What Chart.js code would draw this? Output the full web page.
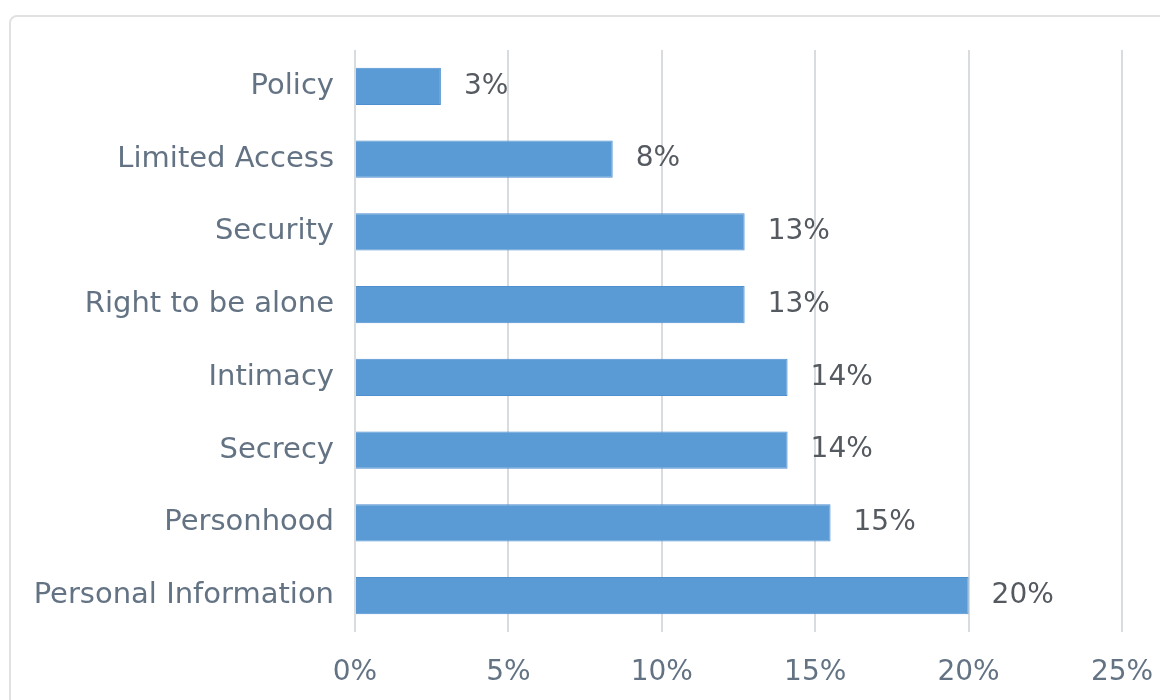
<!DOCTYPE html>
<html>
<head>
<meta charset="utf-8">
<script src="https://cdn.jsdelivr.net/npm/chart.js@4/dist/chart.umd.min.js"></script>
<style>
  html, body { margin: 0; padding: 0; background: #fff; overflow: hidden; }
  body { width: 1160px; height: 700px; position: relative; }
  .frame {
    position: absolute; left: 9px; top: 15px; width: 1200px; height: 760px;
    border: 2px solid #dfe1e3; border-radius: 8px; box-sizing: border-box;
  }
  .wrap { position: absolute; left: 0; top: 0; width: 1200px; height: 700px; }
</style>
</head>
<body>
<div class="frame"></div>
<div class="wrap"><canvas id="chart" width="1200" height="700"></canvas></div>
<script>
// datos
const categories = ['Policy', 'Limited Access', 'Security', 'Right to be alone',
    'Intimacy', 'Secrecy', 'Personhood', 'Personal Information'];
const shares = [2.8, 8.4, 12.7, 12.7, 14.1, 14.1, 15.5, 20.0];
const shareLabels = ['3%', '8%', '13%', '13%', '14%', '14%', '15%', '20%'];
const xTicks = [0, 5, 10, 15, 20, 25];

const axisColor = '#637384';
const valueColor = '#555a60';
const fontFamily = '"DejaVu Sans", sans-serif';

// etiquetas de valor al final de cada barra
const valueLabels = {
    id: 'valueLabels',
    afterDatasetsDraw(chart) {
        const ctx = chart.ctx;
        const meta = chart.getDatasetMeta(0);
        ctx.save();
        ctx.font = `28px ${fontFamily}`;
        ctx.fillStyle = valueColor;
        ctx.textAlign = 'left';
        ctx.textBaseline = 'middle';
        meta.data.forEach((bar, i) => {
            ctx.fillText(shareLabels[i], bar.x + 23, bar.y);
        });
        ctx.restore();
    }
};

new Chart(document.getElementById('chart'), {
    type: 'bar',
    data: {
        labels: categories,
        datasets: [{
            data: shares,
            backgroundColor: '#5b9bd5',
            borderColor: '#4e8fcf',
            borderWidth: 1,
            barPercentage: 0.68,
            categoryPercentage: 0.75
        }]
    },
    options: {
        indexAxis: 'y',
        responsive: false,
        animation: false,
        layout: { padding: { top: 50, right: 78, bottom: 0, left: 0 } },
        plugins: {
            legend: { display: false },
            tooltip: { enabled: false }
        },
        scales: {
            x: {
                min: 0,
                max: 25,
                afterBuildTicks: (scale) => {
                    scale.ticks = xTicks.map(v => ({ value: v }));
                },
                afterFit: (scale) => { scale.height = 68; },
                grid: { color: '#d9dcdf', lineWidth: 2, drawTicks: false },
                border: { display: false },
                ticks: {
                    color: axisColor,
                    padding: 24,
                    font: { family: fontFamily, size: 28 },
                    callback: (v) => v + '%'
                }
            },
            y: {
                afterFit: (scale) => { scale.width = 355; },
                grid: { display: false, drawTicks: false },
                border: { display: false },
                ticks: {
                    color: axisColor,
                    padding: 21,
                    font: { family: fontFamily, size: 29 }
                }
            }
        }
    },
    plugins: [valueLabels]
});
</script>
</body>
</html>
